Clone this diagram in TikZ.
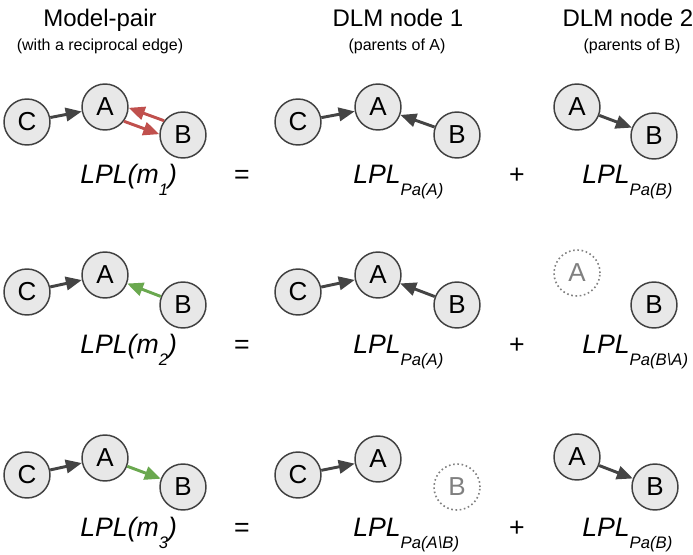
\documentclass[tikz,border=0pt]{standalone}
\usepackage{fontspec}
\setmainfont{Liberation Sans}
\usetikzlibrary{arrows.meta}
\definecolor{ndfill}{HTML}{E8E8E8}
\definecolor{ndline}{HTML}{404040}
\definecolor{edgeclr}{HTML}{444444}
\definecolor{redclr}{HTML}{C0504D}
\definecolor{grnclr}{HTML}{6AA84F}
\newcommand{\lplsub}[1]{\raisebox{-9pt}{\fontsize{12.5}{14}\selectfont #1}}
\begin{document}
\begin{tikzpicture}[x=0.75pt,y=-0.75pt,
  nd/.style={circle,draw=ndline,fill=ndfill,line width=1.1pt,minimum size=34.5pt,inner sep=0pt,font=\fontsize{19.5}{22}\selectfont},
  ghost/.style={circle,draw=gray,dotted,line width=1.2pt,minimum size=34.5pt,inner sep=0pt,text=gray,font=\fontsize{19.5}{22}\selectfont},
  edge/.style={draw=edgeclr,line width=2.2pt,-{Triangle[length=12pt,width=10pt]}},
  redge/.style={edge,draw=redclr},
  gedge/.style={edge,draw=grnclr},
  lpl/.style={anchor=base west,inner sep=0pt,font=\fontsize{20}{24}\selectfont\itshape},
  op/.style={anchor=base,inner sep=0pt,font=\fontsize{20}{24}\selectfont},
  hd/.style={anchor=base,font=\fontsize{18}{22}\selectfont},
  subhd/.style={anchor=base,font=\fontsize{12}{14}\selectfont}]

\useasboundingbox (0,0) rectangle (693,555);

% headers
\node[hd] (h1) at (100,27) {Model-pair};
\node[subhd] (s1) at (100,51) {(with a reciprocal edge)};
\node[hd] (h2) at (398,27) {DLM node 1};
\node[subhd] (s2) at (397,51) {(parents of A)};
\node[hd] (h3) at (628,27) {DLM node 2};
\node[subhd] (s3) at (632,51) {(parents of B)};

% row 1
\node[nd] (mc1) at (27,122) {C};
\node[nd] (ma1) at (105,107) {A};
\node[nd] (mb1) at (183,135) {B};
\draw[edge] (mc1) -- (ma1);
\draw[redge] (mb1.143) -- (ma1.-2);
\draw[redge] (ma1.-37) -- (mb1.178);

\node[nd] (pc1) at (298,122) {C};
\node[nd] (pa1) at (378,107) {A};
\node[nd] (pb1) at (457,135) {B};
\draw[edge] (pc1) -- (pa1);
\draw[edge] (pb1) -- (pa1);

\node[nd] (qa1) at (577,107) {A};
\node[nd] (qb1) at (654,136) {B};
\draw[edge] (qa1) -- (qb1);

\node[lpl] (l1) at (80,184) {LPL(m\lplsub{1})};
\node[op] (eq1) at (242,184) {=};
\node[lpl] (r1) at (353,184) {LPL\lplsub{Pa(A)}};
\node[op] (pl1) at (517,184) {+};
\node[lpl] (t1) at (582,184) {LPL\lplsub{Pa(B)}};

% row 2
\node[nd] (mc2) at (27,292) {C};
\node[nd] (ma2) at (105,275) {A};
\node[nd] (mb2) at (183,305) {B};
\draw[edge] (mc2) -- (ma2);
\draw[gedge] (mb2) -- (ma2);

\node[nd] (pc2) at (298,292) {C};
\node[nd] (pa2) at (378,275) {A};
\node[nd] (pb2) at (457,305) {B};
\draw[edge] (pc2) -- (pa2);
\draw[edge] (pb2) -- (pa2);

\node[ghost] (qa2) at (577,273) {A};
\node[nd] (qb2) at (654,305) {B};

\node[lpl] (l2) at (80,354) {LPL(m\lplsub{2})};
\node[op] (eq2) at (242,354) {=};
\node[lpl] (r2) at (353,354) {LPL\lplsub{Pa(A)}};
\node[op] (pl2) at (517,354) {+};
\node[lpl] (t2) at (582,354) {LPL\lplsub{Pa(B\textbackslash A)}};

% row 3
\node[nd] (mc3) at (27,475) {C};
\node[nd] (ma3) at (105,458) {A};
\node[nd] (mb3) at (183,487) {B};
\draw[edge] (mc3) -- (ma3);
\draw[gedge] (ma3) -- (mb3);

\node[nd] (pc3) at (298,475) {C};
\node[nd] (pa3) at (378,459) {A};
\node[ghost] (pb3) at (457,487) {B};
\draw[edge] (pc3) -- (pa3);

\node[nd] (qa3) at (577,457) {A};
\node[nd] (qb3) at (655,487) {B};
\draw[edge] (qa3) -- (qb3);

\node[lpl] (l3) at (80,537) {LPL(m\lplsub{3})};
\node[op] (eq3) at (242,537) {=};
\node[lpl] (r3) at (353,537) {LPL\lplsub{Pa(A\textbackslash B)}};
\node[op] (pl3) at (517,537) {+};
\node[lpl] (t3) at (582,537) {LPL\lplsub{Pa(B)}};

\end{tikzpicture}
\end{document}
